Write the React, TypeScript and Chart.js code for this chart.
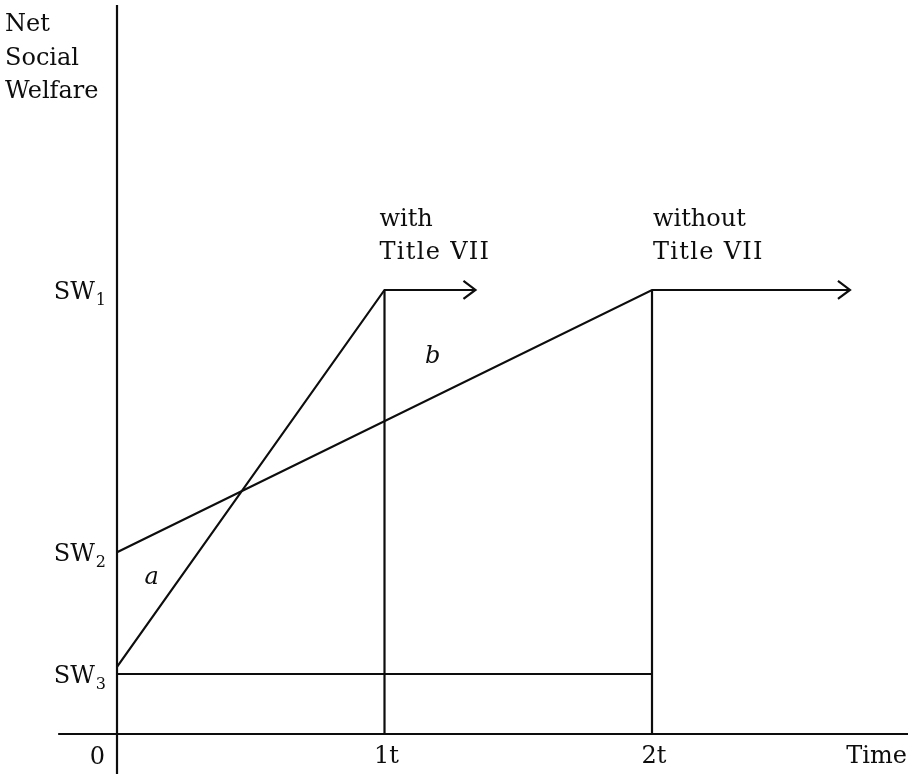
import React, { useEffect, useRef } from "react";
import { Chart, registerables } from "chart.js";

Chart.register(...registerables);

// ---- Data (diagram units: x = time, y = net social welfare) ----
const X_TICKS = [0, 1, 2];
const X_TICK_LABELS = ["0", "1t", "2t"];
const SW_VALUES = [7.4, 3.03, 1.0];
const SW_SUBSCRIPTS = ["1", "2", "3"];

// "with Title VII" path: starts just above SW3, reaches SW1 at 1t, then continues
const WITH_X = [0, 1, 1.34];
const WITH_Y = [1.12, 7.4, 7.4];
// "without Title VII" path: starts at SW2, reaches SW1 at 2t, then continues
const WITHOUT_X = [0, 2, 2.74];
const WITHOUT_Y = [3.03, 7.4, 7.4];
// SW3 baseline from 0 to 2t
const BASE_X = [0, 2];
const BASE_Y = [1.0, 1.0];

// axis extents
const X_MIN = -0.4374;
const X_MAX = 2.957;
const Y_MIN = -0.667;
const Y_MAX = 12.233;
const Y_AXIS_TOP = 12.15;
const X_AXIS_START = -0.22;

const W = 908;
const H = 774;
const INK = "#0d0d0d";
const FONT = "'DejaVu Serif', 'Liberation Serif', serif";

type Pt = { x: number; y: number };
const pts = (xs: number[], ys: number[]): Pt[] => xs.map((x, i) => ({ x, y: ys[i] }));

export default function App() {
  const ref = useRef<HTMLCanvasElement | null>(null);

  useEffect(() => {
    const canvas = ref.current;
    if (!canvas) return;

    const lineDs = (label: string, data: Pt[], arrow = false) => ({
      label,
      data,
      showLine: true,
      borderColor: INK,
      backgroundColor: INK,
      borderWidth: 2.2,
      pointRadius: 0,
      pointHoverRadius: 0,
      tension: 0,
      clip: false as any,
      arrow,
    });

    const datasets: any[] = [
      lineDs("y-axis", [{ x: 0, y: Y_MIN }, { x: 0, y: Y_AXIS_TOP }]),
      lineDs("x-axis", [{ x: X_AXIS_START, y: 0 }, { x: X_MAX, y: 0 }]),
      lineDs("with Title VII", pts(WITH_X, WITH_Y), true),
      lineDs("without Title VII", pts(WITHOUT_X, WITHOUT_Y), true),
      lineDs("1t", [{ x: X_TICKS[1], y: SW_VALUES[0] }, { x: X_TICKS[1], y: 0 }]),
      lineDs("2t", [{ x: X_TICKS[2], y: SW_VALUES[0] }, { x: X_TICKS[2], y: 0 }]),
      lineDs("SW3", pts(BASE_X, BASE_Y)),
    ];

    const labelsPlugin = {
      id: "diagramLabels",
      afterDatasetsDraw(chart: any) {
        const ctx: CanvasRenderingContext2D = chart.ctx;
        const xs = chart.scales.x;
        const ys = chart.scales.y;
        const px = (v: number) => xs.getPixelForValue(v);
        const py = (v: number) => ys.getPixelForValue(v);
        ctx.save();
        ctx.fillStyle = INK;
        ctx.strokeStyle = INK;

        // arrowheads
        chart.data.datasets.forEach((ds: any) => {
          if (!ds.arrow) return;
          const d = ds.data;
          const a = d[d.length - 1];
          const tipX = px(a.x);
          const tipY = py(a.y);
          ctx.lineWidth = 2.2;
          ctx.beginPath();
          ctx.moveTo(tipX - 12, tipY - 9);
          ctx.lineTo(tipX, tipY);
          ctx.lineTo(tipX - 12, tipY + 9);
          ctx.stroke();
        });

        const txt = (t: string, x: number, y: number, spacing = 0) => {
          (ctx as any).letterSpacing = `${spacing}px`;
          ctx.fillText(t, x, y);
          (ctx as any).letterSpacing = "0px";
        };

        const axisX = px(0);
        const axisY = py(0);
        ctx.textBaseline = "alphabetic";

        // y axis title
        ctx.font = `24px ${FONT}`;
        ctx.textAlign = "left";
        ["Net", "Social", "Welfare"].forEach((t, i) => {
          txt(t, 5, 31 + i * 33.5);
        });

        // SW tick labels with subscripts
        SW_VALUES.forEach((v, i) => {
          const y = py(v) + 9;
          ctx.font = `16px ${FONT}`;
          ctx.textAlign = "right";
          const subRight = axisX - 11;
          txt(SW_SUBSCRIPTS[i], subRight, y + 6);
          const sw = ctx.measureText(SW_SUBSCRIPTS[i]).width;
          ctx.font = `24px ${FONT}`;
          txt("SW", subRight - sw - 1, y);
        });

        // x tick labels
        ctx.font = `24px ${FONT}`;
        X_TICKS.forEach((v, i) => {
          if (v === 0) {
            ctx.textAlign = "right";
            txt(X_TICK_LABELS[i], axisX - 12, axisY + 30);
          } else {
            ctx.textAlign = "center";
            txt(X_TICK_LABELS[i], px(v) + 2, axisY + 29);
          }
        });
        ctx.textAlign = "right";
        txt("Time", W - 1, axisY + 29);

        // path annotations
        ctx.textAlign = "left";
        const topY = py(SW_VALUES[0]);
        txt("with", px(X_TICKS[1]) - 5, topY - 64);
        txt("Title VII", px(X_TICKS[1]) - 5, topY - 31, 1.3);
        txt("without", px(X_TICKS[2]) + 1, topY - 64);
        txt("Title VII", px(X_TICKS[2]) + 1, topY - 31, 1.3);

        // region labels
        ctx.font = `italic 24px ${FONT}`;
        ctx.textAlign = "center";
        ctx.textBaseline = "middle";
        txt("a", px(0.13), py(2.6));
        txt("b", px(1.18), py(6.28));

        ctx.restore();
      },
    };

    const chart = new Chart(canvas, {
      type: "scatter",
      data: { datasets },
      options: {
        responsive: false,
        animation: false,
        devicePixelRatio: 1,
        layout: { padding: 0 },
        plugins: {
          legend: { display: false },
          tooltip: { enabled: false },
          title: { display: false },
        },
        events: [],
        scales: {
          x: { type: "linear", display: false, min: X_MIN, max: X_MAX },
          y: { type: "linear", display: false, min: Y_MIN, max: Y_MAX },
        },
      },
      plugins: [labelsPlugin],
    } as any);

    return () => chart.destroy();
  }, []);

  return (
    <div style={{ position: "absolute", left: 0, top: 0, width: W, height: H, background: "#ffffff" }}>
      <canvas ref={ref} width={W} height={H} style={{ display: "block", width: W, height: H }} />
    </div>
  );
}
